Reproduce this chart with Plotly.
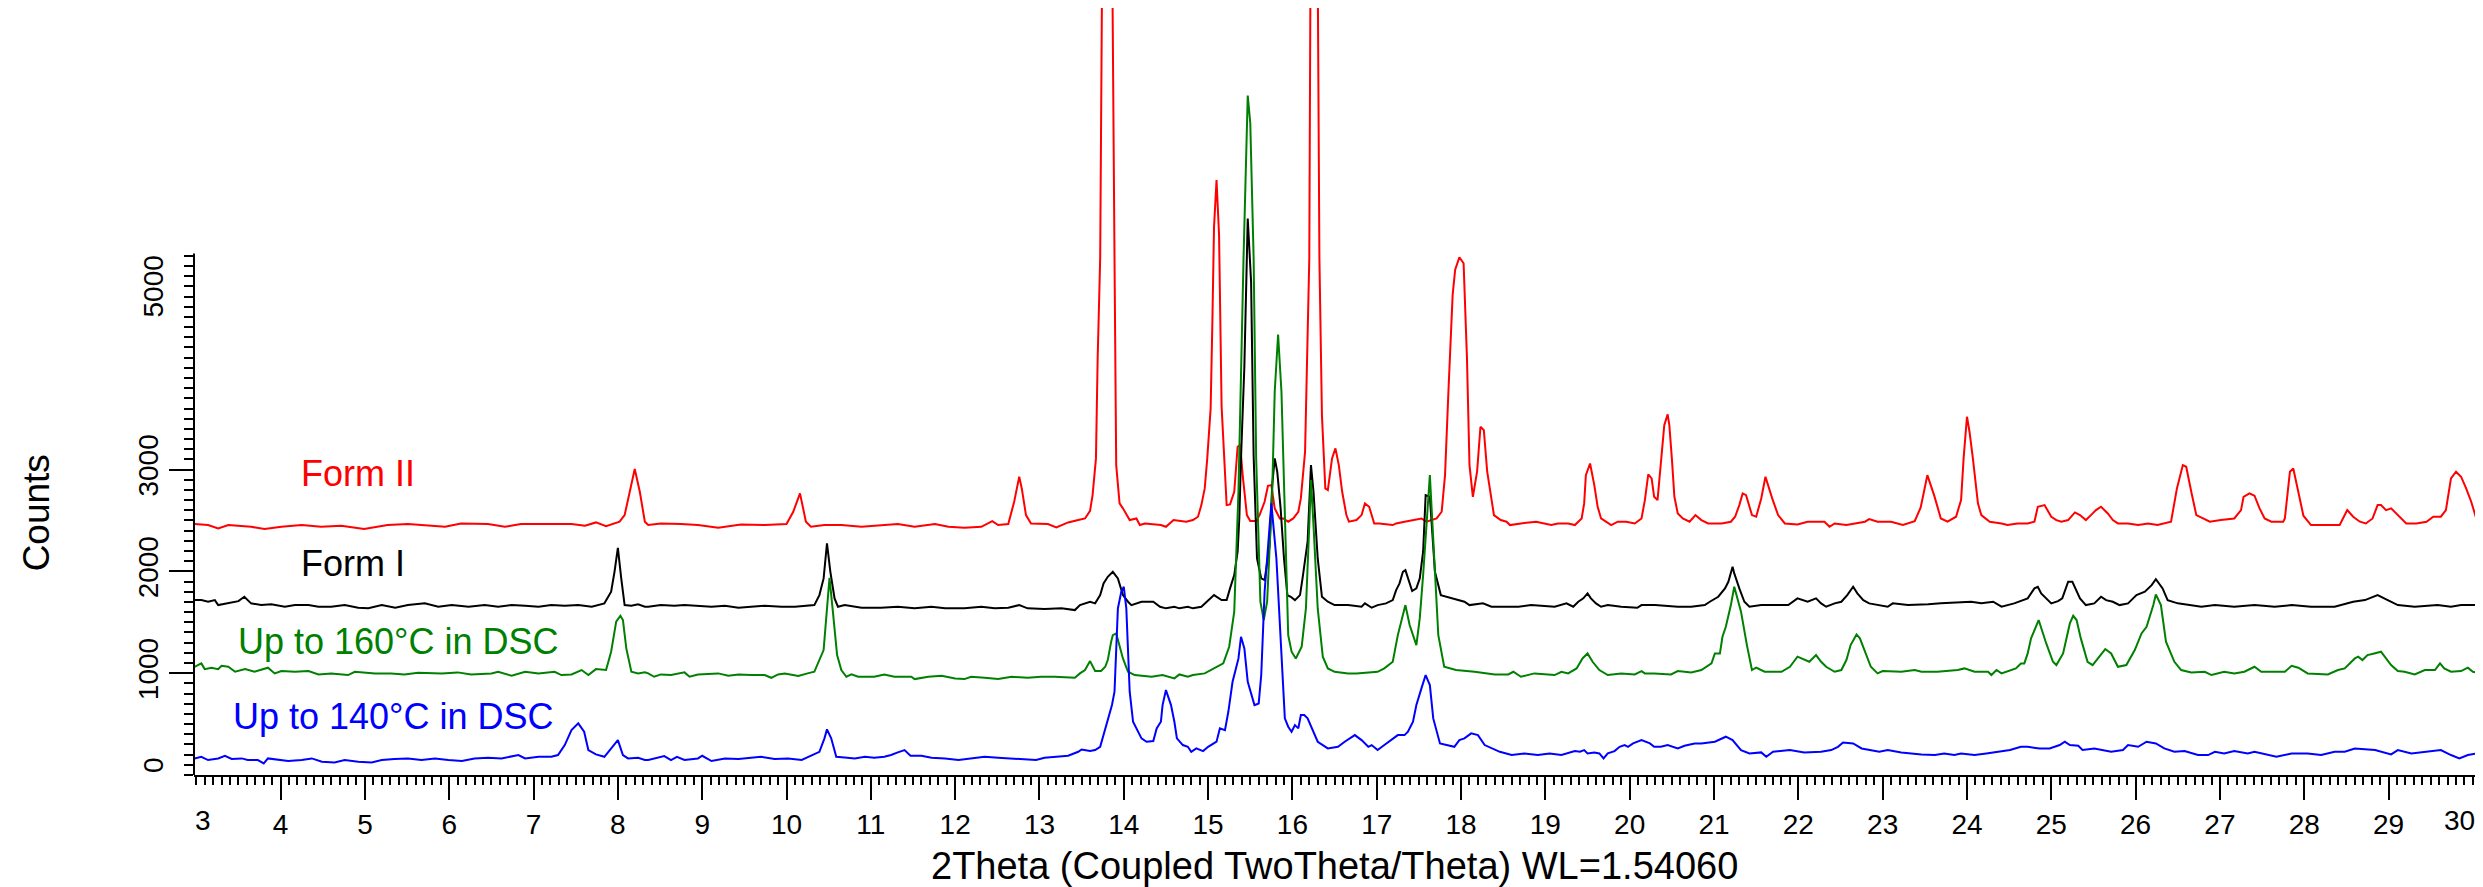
import plotly.graph_objects as go

# ---------------- data (2theta in degrees, counts) ----------------
X_FORM2 = [2.98, 3.14, 3.26, 3.38, 3.65, 3.81, 4.01, 4.25, 4.48, 4.72, 4.99, 5.27, 5.51, 5.75, 5.95, 6.14, 6.46, 6.66, 6.85, 7.17, 7.45, 7.61, 7.74, 7.86, 8.02, 8.08, 8.14, 8.20, 8.26, 8.32, 8.36, 8.51, 8.75, 8.95, 9.19, 9.46, 9.74, 10.00, 10.08, 10.16, 10.23, 10.29, 10.45, 10.65, 10.89, 11.12, 11.32, 11.52, 11.76, 11.92, 12.11, 12.31, 12.44, 12.51, 12.63, 12.70, 12.76, 12.79, 12.84, 12.90, 13.02, 13.10, 13.20, 13.34, 13.46, 13.54, 13.60, 13.63, 13.67, 13.69, 13.72, 13.80, 13.89, 13.91, 13.95, 13.99, 14.07, 14.15, 14.19, 14.25, 14.44, 14.50, 14.59, 14.74, 14.82, 14.88, 14.92, 14.96, 14.99, 15.03, 15.05, 15.07, 15.10, 15.13, 15.16, 15.19, 15.22, 15.26, 15.31, 15.35, 15.38, 15.41, 15.46, 15.50, 15.57, 15.61, 15.67, 15.71, 15.75, 15.79, 15.85, 15.89, 15.95, 16.01, 16.07, 16.10, 16.15, 16.20, 16.25, 16.32, 16.35, 16.39, 16.42, 16.47, 16.51, 16.55, 16.59, 16.64, 16.67, 16.76, 16.82, 16.86, 16.91, 16.97, 17.03, 17.19, 17.23, 17.33, 17.53, 17.59, 17.71, 17.77, 17.81, 17.85, 17.90, 17.93, 17.98, 18.03, 18.07, 18.10, 18.14, 18.19, 18.23, 18.27, 18.31, 18.39, 18.47, 18.54, 18.58, 18.71, 18.89, 19.07, 19.15, 19.27, 19.35, 19.43, 19.46, 19.48, 19.53, 19.58, 19.62, 19.66, 19.72, 19.78, 19.86, 19.96, 20.06, 20.14, 20.18, 20.22, 20.26, 20.29, 20.33, 20.37, 20.41, 20.45, 20.47, 20.50, 20.53, 20.57, 20.63, 20.71, 20.78, 20.85, 20.93, 21.09, 21.20, 21.25, 21.30, 21.34, 21.38, 21.45, 21.50, 21.56, 21.61, 21.69, 21.76, 21.84, 21.99, 22.11, 22.31, 22.37, 22.43, 22.57, 22.79, 22.84, 22.94, 23.10, 23.24, 23.38, 23.45, 23.49, 23.53, 23.61, 23.69, 23.77, 23.87, 23.93, 23.96, 24.00, 24.03, 24.07, 24.13, 24.17, 24.27, 24.41, 24.48, 24.60, 24.72, 24.80, 24.84, 24.92, 25.00, 25.06, 25.12, 25.20, 25.28, 25.34, 25.41, 25.47, 25.53, 25.59, 25.67, 25.73, 25.79, 25.91, 26.03, 26.15, 26.26, 26.42, 26.49, 26.56, 26.60, 26.66, 26.72, 26.80, 26.88, 27.01, 27.17, 27.25, 27.28, 27.35, 27.41, 27.47, 27.53, 27.61, 27.75, 27.77, 27.83, 27.87, 27.93, 27.99, 28.08, 28.20, 28.42, 28.51, 28.58, 28.66, 28.73, 28.81, 28.87, 28.91, 28.97, 29.03, 29.11, 29.21, 29.33, 29.45, 29.53, 29.62, 29.68, 29.74, 29.80, 29.86, 29.92, 29.98, 30.04]
Y_FORM2 = [2465, 2455, 2422, 2455, 2438, 2416, 2438, 2455, 2438, 2448, 2416, 2455, 2465, 2448, 2438, 2471, 2465, 2438, 2465, 2465, 2465, 2448, 2481, 2445, 2488, 2553, 2782, 3005, 2782, 2488, 2455, 2471, 2465, 2455, 2429, 2461, 2455, 2465, 2586, 2766, 2488, 2438, 2455, 2455, 2438, 2455, 2465, 2438, 2465, 2438, 2429, 2438, 2494, 2455, 2465, 2684, 2930, 2815, 2553, 2471, 2465, 2465, 2432, 2481, 2504, 2520, 2595, 2750, 3110, 4092, 5074, 14900, 5074, 3044, 2668, 2619, 2504, 2520, 2455, 2471, 2455, 2438, 2504, 2488, 2504, 2537, 2651, 2815, 3110, 3601, 4419, 5379, 5843, 5300, 3620, 3110, 2651, 2658, 2782, 3224, 3241, 2946, 2553, 2494, 2494, 2553, 2684, 2841, 2848, 2619, 2520, 2520, 2488, 2520, 2586, 2717, 3175, 5074, 15000, 5074, 3535, 2815, 2799, 3110, 3208, 3044, 2782, 2553, 2488, 2504, 2553, 2668, 2635, 2471, 2471, 2455, 2471, 2488, 2520, 2488, 2520, 2586, 2946, 3764, 4714, 4963, 5086, 5027, 4092, 3044, 2733, 2979, 3421, 3388, 2979, 2553, 2504, 2488, 2455, 2471, 2488, 2455, 2471, 2471, 2455, 2520, 2668, 2946, 3060, 2848, 2635, 2520, 2488, 2455, 2488, 2488, 2471, 2520, 2700, 2952, 2913, 2733, 2700, 3110, 3437, 3542, 3437, 3110, 2733, 2569, 2520, 2488, 2553, 2504, 2471, 2471, 2488, 2537, 2651, 2766, 2749, 2553, 2537, 2717, 2930, 2717, 2553, 2471, 2461, 2488, 2488, 2438, 2471, 2455, 2488, 2514, 2488, 2488, 2455, 2494, 2625, 2782, 2946, 2749, 2520, 2488, 2537, 2700, 3110, 3519, 3372, 3110, 2668, 2553, 2488, 2471, 2455, 2471, 2471, 2488, 2635, 2651, 2537, 2504, 2488, 2504, 2579, 2553, 2504, 2553, 2602, 2635, 2569, 2504, 2471, 2471, 2455, 2471, 2455, 2488, 2815, 3044, 3028, 2782, 2553, 2520, 2488, 2504, 2520, 2602, 2733, 2766, 2743, 2619, 2520, 2488, 2488, 2520, 2979, 3011, 2782, 2547, 2455, 2455, 2455, 2602, 2537, 2488, 2471, 2520, 2651, 2651, 2602, 2619, 2553, 2471, 2471, 2488, 2537, 2537, 2602, 2913, 2979, 2930, 2815, 2684, 2520]

X_FORM1 = [2.98, 3.06, 3.14, 3.22, 3.26, 3.38, 3.50, 3.57, 3.65, 3.77, 3.89, 4.05, 4.17, 4.33, 4.45, 4.60, 4.76, 4.92, 5.04, 5.20, 5.36, 5.51, 5.71, 5.87, 6.03, 6.23, 6.42, 6.58, 6.74, 6.90, 7.06, 7.21, 7.37, 7.53, 7.69, 7.84, 7.92, 7.96, 8.00, 8.04, 8.08, 8.16, 8.24, 8.32, 8.36, 8.51, 8.67, 8.79, 8.95, 9.11, 9.27, 9.43, 9.58, 9.74, 9.94, 10.10, 10.33, 10.39, 10.44, 10.48, 10.52, 10.57, 10.61, 10.69, 10.89, 11.12, 11.32, 11.52, 11.72, 11.88, 12.11, 12.31, 12.47, 12.63, 12.76, 12.86, 13.06, 13.26, 13.42, 13.48, 13.60, 13.66, 13.72, 13.76, 13.81, 13.87, 13.93, 13.99, 14.05, 14.09, 14.21, 14.35, 14.43, 14.50, 14.60, 14.66, 14.76, 14.82, 14.92, 14.96, 15.07, 15.16, 15.22, 15.26, 15.31, 15.35, 15.37, 15.39, 15.43, 15.47, 15.51, 15.54, 15.58, 15.63, 15.67, 15.73, 15.76, 15.79, 15.82, 15.86, 15.90, 15.94, 15.98, 16.03, 16.09, 16.12, 16.18, 16.22, 16.25, 16.30, 16.35, 16.42, 16.50, 16.66, 16.82, 16.86, 16.94, 17.01, 17.11, 17.19, 17.23, 17.27, 17.31, 17.34, 17.38, 17.42, 17.47, 17.51, 17.55, 17.58, 17.63, 17.65, 17.69, 17.76, 17.89, 18.04, 18.10, 18.26, 18.36, 18.68, 18.83, 19.11, 19.25, 19.33, 19.39, 19.45, 19.50, 19.54, 19.60, 19.66, 19.74, 19.90, 20.09, 20.14, 20.30, 20.57, 20.73, 20.89, 20.95, 21.05, 21.13, 21.17, 21.22, 21.24, 21.30, 21.36, 21.42, 21.56, 21.88, 21.99, 22.11, 22.21, 22.27, 22.33, 22.43, 22.51, 22.58, 22.65, 22.70, 22.77, 22.84, 22.96, 23.06, 23.12, 23.30, 23.54, 23.69, 24.05, 24.17, 24.31, 24.41, 24.56, 24.72, 24.80, 24.84, 24.88, 24.94, 25.00, 25.08, 25.13, 25.20, 25.25, 25.34, 25.41, 25.51, 25.59, 25.65, 25.73, 25.81, 25.91, 26.01, 26.11, 26.19, 26.24, 26.32, 26.38, 26.50, 26.62, 26.78, 26.94, 27.17, 27.41, 27.65, 27.85, 28.08, 28.36, 28.58, 28.72, 28.87, 28.99, 29.11, 29.31, 29.58, 29.74, 29.86, 30.04]
Y_FORM1 = [1718, 1718, 1702, 1718, 1669, 1686, 1708, 1751, 1686, 1669, 1676, 1653, 1669, 1669, 1653, 1653, 1669, 1643, 1637, 1669, 1643, 1669, 1686, 1653, 1669, 1653, 1669, 1653, 1669, 1663, 1653, 1669, 1663, 1669, 1653, 1686, 1800, 1996, 2232, 1931, 1669, 1663, 1676, 1653, 1653, 1669, 1663, 1669, 1663, 1653, 1663, 1643, 1653, 1663, 1653, 1653, 1669, 1767, 1931, 2275, 1996, 1735, 1653, 1669, 1643, 1643, 1653, 1637, 1653, 1637, 1637, 1653, 1637, 1643, 1669, 1637, 1630, 1637, 1620, 1669, 1702, 1686, 1767, 1882, 1947, 1996, 1931, 1767, 1702, 1669, 1702, 1702, 1653, 1637, 1653, 1637, 1653, 1637, 1653, 1686, 1767, 1718, 1718, 1833, 1964, 2193, 2520, 3110, 4010, 5467, 4841, 3131, 2127, 1931, 1915, 2258, 2848, 3110, 2979, 2619, 2127, 1767, 1751, 1718, 1767, 1931, 2291, 3044, 2782, 2127, 1751, 1702, 1669, 1669, 1653, 1686, 1643, 1669, 1686, 1718, 1816, 1882, 1996, 2013, 1898, 1807, 1833, 1931, 2193, 2749, 2733, 2455, 1996, 1767, 1735, 1702, 1669, 1686, 1653, 1653, 1669, 1653, 1686, 1653, 1702, 1735, 1784, 1735, 1686, 1653, 1669, 1653, 1643, 1669, 1669, 1653, 1653, 1669, 1702, 1751, 1833, 1898, 2046, 1980, 1833, 1702, 1653, 1669, 1669, 1735, 1702, 1735, 1686, 1653, 1686, 1702, 1767, 1849, 1784, 1718, 1686, 1669, 1653, 1686, 1669, 1676, 1686, 1702, 1686, 1702, 1653, 1686, 1735, 1833, 1849, 1784, 1735, 1686, 1708, 1735, 1898, 1898, 1735, 1669, 1686, 1751, 1718, 1702, 1669, 1686, 1767, 1800, 1865, 1924, 1833, 1718, 1686, 1669, 1653, 1669, 1653, 1669, 1653, 1669, 1653, 1653, 1702, 1718, 1767, 1718, 1669, 1653, 1669, 1653, 1669, 1669]

X_DSC160 = [2.98, 3.06, 3.10, 3.18, 3.26, 3.30, 3.38, 3.46, 3.58, 3.69, 3.85, 3.93, 4.01, 4.17, 4.33, 4.45, 4.60, 4.80, 4.88, 5.12, 5.31, 5.47, 5.63, 5.91, 6.10, 6.26, 6.50, 6.58, 6.74, 6.90, 7.06, 7.25, 7.33, 7.45, 7.57, 7.65, 7.74, 7.86, 7.92, 7.98, 8.03, 8.06, 8.10, 8.16, 8.24, 8.32, 8.36, 8.43, 8.51, 8.63, 8.79, 8.85, 8.95, 9.11, 9.19, 9.31, 9.43, 9.58, 9.74, 9.82, 9.90, 9.98, 10.14, 10.25, 10.33, 10.44, 10.48, 10.51, 10.55, 10.60, 10.65, 10.71, 10.77, 10.85, 11.04, 11.16, 11.28, 11.48, 11.52, 11.68, 11.84, 12.00, 12.11, 12.19, 12.35, 12.51, 12.67, 12.86, 13.02, 13.18, 13.42, 13.48, 13.54, 13.60, 13.66, 13.73, 13.78, 13.81, 13.85, 13.87, 13.91, 13.95, 13.99, 14.05, 14.13, 14.33, 14.46, 14.60, 14.66, 14.76, 14.82, 14.96, 15.08, 15.18, 15.25, 15.31, 15.36, 15.39, 15.42, 15.47, 15.50, 15.54, 15.57, 15.62, 15.66, 15.70, 15.76, 15.79, 15.83, 15.87, 15.91, 15.95, 15.99, 16.04, 16.11, 16.16, 16.20, 16.22, 16.25, 16.30, 16.36, 16.42, 16.50, 16.66, 16.76, 17.01, 17.09, 17.19, 17.25, 17.34, 17.39, 17.47, 17.51, 17.55, 17.63, 17.67, 17.73, 17.80, 17.94, 18.16, 18.40, 18.56, 18.62, 18.71, 18.87, 19.11, 19.19, 19.27, 19.37, 19.44, 19.50, 19.56, 19.64, 19.74, 19.90, 20.06, 20.14, 20.18, 20.29, 20.49, 20.57, 20.73, 20.85, 20.97, 21.01, 21.07, 21.10, 21.14, 21.20, 21.24, 21.32, 21.39, 21.45, 21.50, 21.60, 21.80, 21.90, 21.99, 22.07, 22.13, 22.21, 22.27, 22.33, 22.43, 22.51, 22.57, 22.62, 22.69, 22.73, 22.81, 22.86, 22.94, 23.00, 23.22, 23.38, 23.46, 23.65, 23.89, 23.97, 24.09, 24.25, 24.29, 24.35, 24.41, 24.51, 24.58, 24.64, 24.68, 24.72, 24.76, 24.85, 24.94, 25.02, 25.06, 25.14, 25.22, 25.26, 25.30, 25.35, 25.43, 25.49, 25.57, 25.64, 25.71, 25.79, 25.89, 25.99, 26.07, 26.13, 26.21, 26.24, 26.30, 26.36, 26.46, 26.54, 26.66, 26.82, 26.90, 27.05, 27.17, 27.29, 27.41, 27.49, 27.65, 27.77, 27.85, 27.93, 28.04, 28.28, 28.40, 28.48, 28.60, 28.64, 28.69, 28.75, 28.83, 28.91, 28.97, 29.03, 29.11, 29.19, 29.31, 29.43, 29.55, 29.61, 29.66, 29.74, 29.86, 29.94, 30.00, 30.04]
Y_DSC160 = [1063, 1096, 1040, 1054, 1040, 1073, 1063, 1014, 1040, 1014, 1054, 998, 1021, 1014, 1021, 988, 998, 982, 1014, 998, 998, 988, 1004, 998, 1008, 988, 998, 1014, 975, 1014, 998, 1014, 982, 988, 1031, 982, 1040, 1031, 1211, 1506, 1564, 1522, 1244, 1014, 998, 1008, 998, 965, 988, 982, 1008, 965, 988, 998, 998, 975, 988, 982, 982, 955, 988, 998, 972, 998, 1014, 1227, 1604, 1937, 1604, 1178, 1031, 965, 988, 965, 965, 988, 965, 965, 942, 965, 975, 949, 942, 965, 955, 942, 965, 955, 965, 965, 955, 998, 1031, 1119, 1021, 1021, 1063, 1129, 1309, 1374, 1391, 1276, 1145, 1014, 982, 965, 982, 949, 988, 965, 982, 998, 1047, 1096, 1260, 1604, 2782, 4092, 5074, 6674, 6405, 5074, 3110, 1702, 1522, 1702, 2782, 3764, 4327, 3764, 2455, 1374, 1211, 1145, 1260, 1636, 2455, 2897, 2455, 1636, 1162, 1047, 1014, 998, 998, 1014, 1047, 1112, 1374, 1669, 1473, 1276, 1538, 1964, 2946, 2291, 1374, 1063, 1031, 1014, 988, 988, 1014, 965, 998, 982, 1014, 998, 1047, 1145, 1194, 1112, 1031, 982, 998, 988, 1021, 998, 998, 988, 1021, 1008, 1031, 1096, 1194, 1194, 1358, 1456, 1669, 1849, 1604, 1276, 1031, 1054, 1014, 1014, 1063, 1162, 1129, 1112, 1178, 1112, 1063, 1014, 1031, 1129, 1276, 1381, 1342, 1178, 1063, 998, 1021, 1014, 1031, 1014, 1014, 1031, 1047, 1014, 1014, 982, 1031, 998, 1031, 1047, 1096, 1096, 1194, 1342, 1522, 1292, 1112, 1080, 1194, 1489, 1564, 1522, 1342, 1112, 1080, 1162, 1237, 1194, 1063, 1080, 1227, 1391, 1456, 1669, 1774, 1669, 1309, 1112, 1031, 1008, 1014, 982, 1014, 998, 1014, 1063, 1014, 1014, 1014, 1073, 1054, 998, 988, 1031, 1047, 1145, 1162, 1129, 1178, 1194, 1211, 1145, 1080, 1021, 1014, 988, 1031, 1031, 1096, 1047, 1014, 1021, 1054, 1014, 1008]

X_DSC140 = [2.98, 3.06, 3.14, 3.26, 3.34, 3.42, 3.54, 3.61, 3.73, 3.80, 3.85, 3.97, 4.09, 4.25, 4.37, 4.49, 4.64, 4.76, 4.92, 5.08, 5.20, 5.35, 5.51, 5.67, 5.83, 5.99, 6.15, 6.30, 6.46, 6.62, 6.74, 6.82, 6.90, 7.06, 7.21, 7.29, 7.37, 7.45, 7.53, 7.60, 7.65, 7.74, 7.84, 7.92, 8.00, 8.06, 8.12, 8.24, 8.32, 8.36, 8.43, 8.55, 8.63, 8.70, 8.79, 8.95, 9.00, 9.11, 9.27, 9.43, 9.58, 9.70, 9.86, 10.02, 10.18, 10.26, 10.39, 10.45, 10.48, 10.53, 10.59, 10.69, 10.81, 10.93, 11.04, 11.16, 11.24, 11.32, 11.40, 11.47, 11.60, 11.72, 11.88, 12.04, 12.19, 12.35, 12.51, 12.67, 12.83, 12.96, 13.06, 13.22, 13.34, 13.46, 13.50, 13.60, 13.66, 13.72, 13.76, 13.80, 13.86, 13.89, 13.93, 13.97, 14.00, 14.03, 14.07, 14.11, 14.17, 14.21, 14.27, 14.35, 14.39, 14.44, 14.46, 14.50, 14.56, 14.60, 14.63, 14.70, 14.76, 14.80, 14.86, 14.94, 15.00, 15.10, 15.14, 15.20, 15.24, 15.29, 15.33, 15.36, 15.39, 15.43, 15.47, 15.52, 15.55, 15.60, 15.63, 15.67, 15.75, 15.81, 15.85, 15.91, 15.95, 15.99, 16.03, 16.07, 16.10, 16.14, 16.18, 16.26, 16.30, 16.42, 16.54, 16.62, 16.74, 16.82, 16.90, 16.94, 17.01, 17.09, 17.17, 17.25, 17.33, 17.37, 17.43, 17.47, 17.53, 17.58, 17.63, 17.67, 17.75, 17.92, 17.98, 18.04, 18.12, 18.20, 18.28, 18.40, 18.46, 18.60, 18.75, 18.91, 19.05, 19.19, 19.27, 19.35, 19.41, 19.46, 19.50, 19.58, 19.64, 19.69, 19.74, 19.82, 19.88, 19.94, 19.98, 20.04, 20.14, 20.24, 20.29, 20.37, 20.45, 20.57, 20.65, 20.77, 20.85, 21.01, 21.14, 21.22, 21.32, 21.42, 21.56, 21.62, 21.70, 21.80, 21.90, 22.07, 22.27, 22.39, 22.47, 22.53, 22.65, 22.75, 22.86, 22.96, 23.06, 23.22, 23.46, 23.62, 23.73, 23.85, 23.93, 24.09, 24.23, 24.39, 24.51, 24.64, 24.72, 24.86, 24.98, 25.10, 25.16, 25.22, 25.32, 25.37, 25.51, 25.71, 25.85, 25.91, 26.03, 26.13, 26.24, 26.34, 26.46, 26.58, 26.74, 26.86, 26.94, 27.05, 27.17, 27.33, 27.41, 27.67, 27.85, 28.04, 28.20, 28.36, 28.48, 28.60, 28.84, 29.03, 29.11, 29.27, 29.47, 29.62, 29.74, 29.84, 29.94, 30.04]
Y_DSC140 = [163, 179, 147, 163, 189, 157, 163, 147, 147, 114, 163, 147, 137, 147, 163, 130, 124, 147, 130, 124, 147, 157, 163, 147, 163, 147, 137, 163, 169, 163, 179, 196, 163, 179, 179, 196, 294, 441, 507, 425, 245, 202, 179, 261, 343, 196, 163, 169, 147, 147, 163, 186, 147, 179, 147, 163, 189, 137, 163, 157, 169, 179, 157, 163, 147, 179, 228, 360, 448, 360, 179, 173, 163, 179, 169, 179, 196, 222, 245, 189, 189, 169, 163, 147, 163, 179, 169, 163, 157, 147, 169, 179, 189, 228, 251, 235, 245, 277, 392, 507, 687, 818, 1636, 1800, 1849, 1636, 818, 523, 425, 360, 327, 333, 458, 523, 687, 834, 687, 523, 360, 294, 277, 228, 261, 235, 277, 327, 458, 441, 621, 916, 1047, 1145, 1358, 1243, 916, 785, 687, 703, 982, 1800, 2668, 2127, 1473, 556, 474, 425, 490, 458, 589, 589, 556, 392, 327, 261, 277, 327, 392, 343, 277, 294, 245, 294, 343, 392, 392, 425, 523, 687, 851, 982, 883, 556, 310, 277, 343, 360, 409, 392, 294, 245, 228, 196, 212, 196, 212, 196, 212, 235, 228, 245, 212, 222, 212, 163, 212, 235, 277, 294, 277, 310, 343, 310, 277, 277, 294, 261, 287, 310, 310, 327, 376, 343, 245, 212, 222, 179, 228, 235, 245, 222, 228, 245, 277, 320, 310, 261, 245, 228, 245, 222, 202, 196, 212, 196, 212, 196, 212, 228, 245, 277, 277, 261, 261, 294, 327, 294, 287, 245, 261, 228, 245, 294, 277, 327, 310, 261, 228, 235, 196, 196, 228, 212, 235, 212, 228, 179, 212, 212, 196, 228, 228, 261, 245, 202, 245, 212, 235, 245, 196, 163, 196, 212]

SERIES_X = [X_FORM2, X_FORM1, X_DSC160, X_DSC140]
SERIES_Y = [Y_FORM2, Y_FORM1, Y_DSC160, Y_DSC140]
SERIES_NAMES = ["Form II", "Form I", "Up to 160°C in DSC", "Up to 140°C in DSC"]
SERIES_COLORS = ["#FF0000", "#000000", "#008000", "#0000FF"]
LABEL_X = [4.218, 4.218, 3.474, 3.408]
LABEL_Y = [2962, 2078, 1311, 572]

X_TICKS = list(range(3, 31))
# end labels "3" and "30" are drawn separately, nudged inside the axis like the original
X_TICK_TEXT = [("" if v in (3, 30) else str(v)) for v in X_TICKS]
X_END_LABELS = ["3", "30"]
X_END_LABEL_POS = [3.076, 29.842]
X_MID_TICKS = [v + 0.5 for v in range(3, 30)]
X_MINOR_TICKS = [round(3 + 0.1 * i, 1) for i in range(0, 271)]
Y_TICKS = [0, 1000, 2000, 3000, 4000, 5000]
Y_TICK_TEXT = ["", "1000", "2000", "3000", "", ""]
Y_MID_TICKS = [500, 1500, 2500, 3500, 4500]
Y_MINOR_TICKS = list(range(0, 5101, 100))
Y_AXIS_TOP = 5123
X_RANGE = [2.973, 30.025]
Y_RANGE = [0, 7534]
COUNTS_LABEL_Y = 2570
X_TITLE = "2Theta (Coupled TwoTheta/Theta) WL=1.54060"

FONT = "Liberation Sans, Arial, sans-serif"

fig = go.Figure()
for xs, ys, name, col in zip(SERIES_X, SERIES_Y, SERIES_NAMES, SERIES_COLORS):
    fig.add_trace(go.Scatter(x=xs, y=ys, mode="lines", name=name,
                             line=dict(color=col, width=2), showlegend=False))

annotations = []
for name, col, lx, ly in zip(SERIES_NAMES, SERIES_COLORS, LABEL_X, LABEL_Y):
    annotations.append(dict(x=lx, y=ly, xref="x", yref="y", text=name, showarrow=False,
                            xanchor="left", yanchor="middle",
                            font=dict(family=FONT, size=36, color=col)))
# end labels of the y axis (clamped to the axis extent like the original)
annotations.append(dict(x=0, xref="paper", xshift=-41, y=0, yref="y", text="0",
                        textangle=-90, showarrow=False, xanchor="center", yanchor="bottom",
                        font=dict(family=FONT, size=28, color="black")))
annotations.append(dict(x=0, xref="paper", xshift=-41, y=Y_AXIS_TOP, yref="y", text="5000",
                        textangle=-90, showarrow=False, xanchor="center", yanchor="top",
                        font=dict(family=FONT, size=28, color="black")))
# end labels of the x axis
for txt, pos in zip(X_END_LABELS, X_END_LABEL_POS):
    annotations.append(dict(x=pos, xref="x", y=0, yref="paper", yshift=-45, text=txt,
                            showarrow=False, xanchor="center", yanchor="middle",
                            font=dict(family=FONT, size=28, color="black")))
# axis titles
annotations.append(dict(x=0, xref="paper", xshift=-158, y=COUNTS_LABEL_Y, yref="y",
                        text="Counts", textangle=-90, showarrow=False,
                        xanchor="center", yanchor="middle",
                        font=dict(family=FONT, size=37, color="black")))
annotations.append(dict(x=0.5, xref="paper", y=0, yref="paper", yshift=-91,
                        text=X_TITLE, showarrow=False, xanchor="center", yanchor="middle",
                        font=dict(family=FONT, size=38, color="black")))

fig.update_layout(
    width=2483, height=887,
    margin=dict(l=186, r=16, t=0, b=120),
    paper_bgcolor="white", plot_bgcolor="white",
    font=dict(family=FONT, color="black"),
    xaxis=dict(range=X_RANGE, showline=True, linecolor="black", linewidth=2,
               ticks="outside", tickvals=X_TICKS, ticktext=X_TICK_TEXT,
               ticklen=23, tickwidth=2, tickcolor="black",
               tickfont=dict(family=FONT, size=28, color="black"),
               showgrid=False, zeroline=False,
               minor=dict(tickmode="array", tickvals=X_MINOR_TICKS, ticks="outside",
                          ticklen=8, tickwidth=1.5, tickcolor="black", showgrid=False)),
    xaxis2=dict(range=X_RANGE, overlaying="x", anchor="y", side="bottom",
                ticks="outside", tickvals=X_MID_TICKS, ticklen=15, tickwidth=1.5,
                tickcolor="black", showticklabels=False, showgrid=False,
                zeroline=False, showline=False),
    yaxis=dict(range=Y_RANGE, showline=False, ticks="outside", tickvals=Y_TICKS,
               ticktext=Y_TICK_TEXT, ticklen=24, tickwidth=2, tickcolor="black",
               tickangle=-90, tickfont=dict(family=FONT, size=28, color="black"),
               showgrid=False, zeroline=False,
               minor=dict(tickmode="array", tickvals=Y_MINOR_TICKS, ticks="outside",
                          ticklen=9, tickwidth=1.5, tickcolor="black", showgrid=False)),
    yaxis2=dict(range=Y_RANGE, overlaying="y", anchor="x", side="left",
                ticks="outside", tickvals=Y_MID_TICKS, ticklen=16, tickwidth=1.5,
                tickcolor="black", showticklabels=False, showgrid=False,
                zeroline=False, showline=False),
    shapes=[dict(type="line", xref="paper", yref="y", x0=0, x1=0, y0=0, y1=Y_AXIS_TOP,
                 line=dict(color="black", width=2))],
    annotations=annotations,
)

fig.write_html("out.html")
